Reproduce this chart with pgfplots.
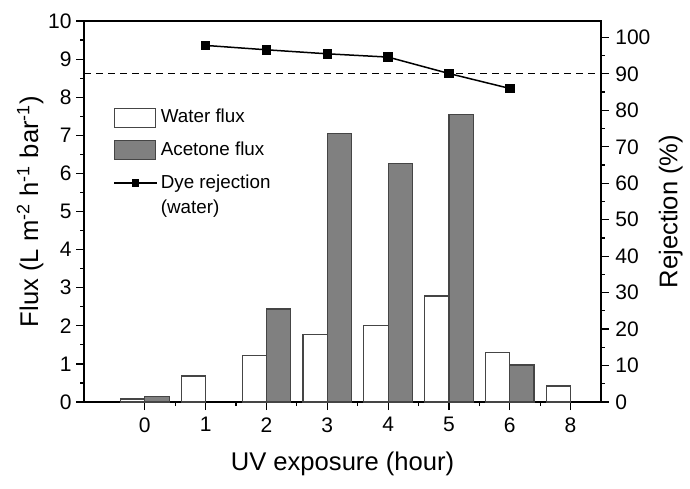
\documentclass[border=0pt]{standalone}
\usepackage{pgfplots}
\pgfplotsset{compat=1.18}
\usepackage{fontspec}
\setmainfont{Liberation Sans}
\definecolor{bardraw}{HTML}{454545}
\definecolor{acet}{HTML}{808080}
\pgfplotsset{
 rectlegend/.style={legend image code/.code={\draw[##1] (0pt,-4.75pt) rectangle (20.5pt,4.75pt);}},
 linelegend/.style={legend image code/.code={\draw[##1, mark repeat=2, mark phase=2] plot coordinates {(0pt,6.25pt) (10.75pt,6.25pt) (21.5pt,6.25pt)};}},
}
\begin{document}
\begin{tikzpicture}
\begin{axis}[
 at={(0,0)}, anchor=south west,
 scale only axis, width=258.5pt, height=190.5pt,
 xmin=-1, xmax=7.5, ymin=0, ymax=10,
 xtick={0,...,7}, xticklabels={0,1,2,3,4,5,6,8},
 minor xtick={0.5,1.5,...,6.5},
 ytick={0,...,10}, minor ytick={0.5,1.5,...,9.5},
 xtick pos=left, ytick pos=left, tick align=outside,
 major tick length=4pt, minor tick length=2pt,
 tick style={black, line width=0.6pt},
 axis line style={line width=0.75pt},
 tick label style={font=\fontsize{10.5}{12}\selectfont, inner sep=2pt},
 xticklabel style={yshift=-1.5pt},
 /pgf/number format/assume math mode=true,
 xlabel={UV exposure (hour)},
 ylabel={Flux (L m\textsuperscript{-2} h\textsuperscript{-1} bar\textsuperscript{-1})},
 label style={font=\fontsize{12.8}{14}\selectfont},
 xlabel style={at={(axis description cs:0.5,-0.163)}, anchor=center},
 ylabel style={at={(axis description cs:-0.104,0.5)}, anchor=center},
 legend style={at={(axis description cs:0.056,0.777)}, anchor=north west, draw=none, fill=none,
   font=\fontsize{9.4}{12.5}\selectfont, row sep=5pt, inner sep=0pt, nodes={inner sep=1.5pt, align=left}},
 legend cell align=left,
]
\addplot[ybar, bar width=0.4, bar shift=0pt, fill=white, draw=bardraw, line width=0.6pt, rectlegend]
  coordinates {(-0.2,0.08) (0.8,0.68) (1.8,1.22) (2.8,1.78) (3.8,2.0) (4.8,2.78) (5.8,1.29) (6.8,0.42)};
\addlegendentry{Water flux}
\addplot[ybar, bar width=0.4, bar shift=0pt, fill=acet, draw=bardraw, line width=0.6pt, rectlegend]
  coordinates {(0.2,0.14) (2.2,2.44) (3.2,7.05) (4.2,6.26) (5.2,7.55) (6.2,0.97)};
\addlegendentry{Acetone flux}
\addlegendimage{black, line width=0.75pt, mark=square*, mark size=1.5pt, linelegend}
\addlegendentry{Dye rejection\\(water)}
\end{axis}
\begin{axis}[
 at={(0,0)}, anchor=south west,
 scale only axis, width=258.5pt, height=190.5pt,
 xmin=-1, xmax=7.5, ymin=0, ymax=104.5,
 axis y line*=right, axis x line=none,
 ytick={0,10,...,100}, minor ytick={5,15,...,95},
 tick align=outside,
 major tick length=4pt, minor tick length=2pt,
 tick style={black, line width=0.6pt},
 axis line style={line width=0.75pt},
 tick label style={font=\fontsize{10.5}{12}\selectfont, inner sep=2pt},
 yticklabel style={xshift=1pt},
 /pgf/number format/assume math mode=true,
 ylabel={Rejection (\%)},
 label style={font=\fontsize{12.8}{14}\selectfont},
 ylabel style={at={(axis description cs:1.135,0.5)}, anchor=center},
]
\addplot[black, line width=0.6pt, dash pattern=on 3.5pt off 2.5pt] coordinates {(-1,90) (7.5,90)};
\addplot[black, line width=0.75pt, mark=square*, mark size=2pt] coordinates {(1,97.8) (2,96.6) (3,95.5) (4,94.6) (5,90.1) (6,86.0)};
\end{axis}
\pgfresetboundingbox
\path (-42pt,-43pt) rectangle (303pt,201pt);
\end{tikzpicture}
\end{document}
